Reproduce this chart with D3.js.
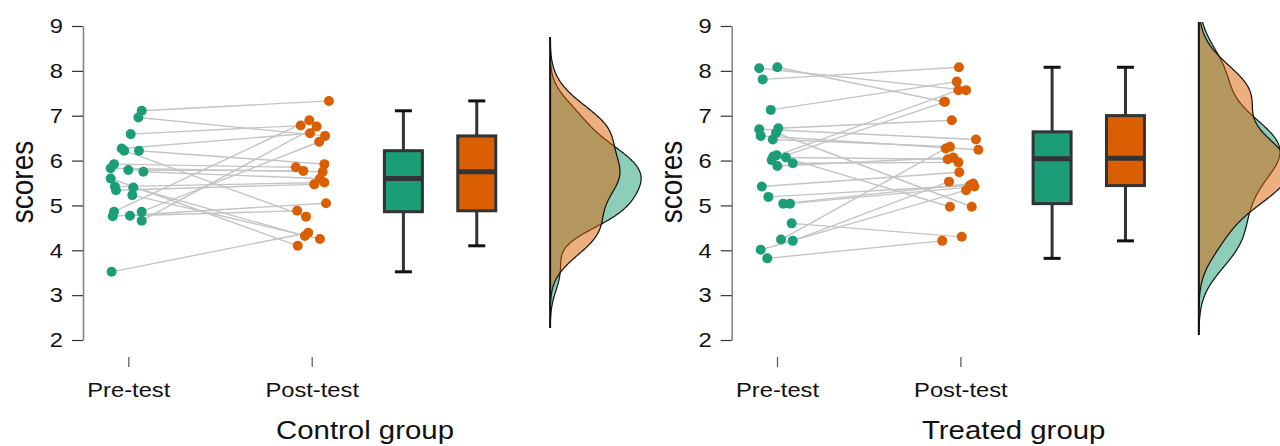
<!DOCTYPE html>
<html>
<head>
<meta charset="utf-8">
<script src="https://cdn.jsdelivr.net/npm/d3@7"></script>
<style>
  body { margin: 0; background: #fff; }
  svg { display: block; font-family: "Liberation Sans", Arial, sans-serif; }
</style>
</head>
<body>
<div id="wrapper"></div>
<script>
// tick labels and categories
const yTicks = [2, 3, 4, 5, 6, 7, 8, 9];
const timeLabels = ["Pre-test", "Post-test"];
const groupNames = ["Control group", "Treated group"];

// control group, one entry per subject (pre -> post)
const controlPre  = [7.11, 6.96, 6.59, 6.27, 6.22, 6.22, 5.92, 5.83, 5.79, 5.75, 5.60, 5.42, 5.40, 5.34, 5.23, 4.86, 4.76, 4.77, 4.86, 4.66, 3.52];
const controlPost = [7.33, 6.55, 6.78, 6.61, 4.75, 5.92, 5.85, 5.75, 5.77, 5.60, 4.10, 5.51, 4.32, 5.47, 4.25, 6.90, 5.05, 4.88, 6.42, 6.76, 4.39];
// horizontal jitter, in category units
const controlPreJitter  = [0.073, 0.055, 0.013, -0.036, -0.022, 0.058, -0.078, -0.096, 0, 0.082, -0.096, -0.073, 0.027, -0.067, 0.022, -0.078, -0.085, 0.009, 0.073, 0.073, -0.091];
const controlPostJitter = [0.094, 0.073, -0.060, -0.009, -0.031, 0.069, -0.086, 0.060, -0.046, 0.045, -0.076, 0.069, -0.037, 0.014, 0.045, -0.013, 0.078, -0.079, 0.041, 0.027, -0.019];

// treated group
const treatedPre  = [8.06, 8.08, 7.81, 7.13, 6.70, 6.55, 6.72, 6.62, 6.47, 6.09, 6.12, 6.01, 5.88, 6.07, 5.94, 5.42, 5.19, 5.04, 5.04, 4.60, 4.24, 4.21, 4.01, 3.82];
const treatedPost = [7.57, 7.31, 8.08, 7.76, 6.47, 6.24, 6.90, 4.97, 6.31, 7.57, 4.97, 7.31, 6.07, 6.03, 5.96, 5.74, 5.45, 5.49, 5.42, 4.30, 6.27, 5.53, 5.34, 4.21];
const treatedPreJitter  = [-0.097, 0.002, -0.078, -0.034, -0.097, -0.089, 0.007, -0.005, -0.023, -0.020, -0.002, -0.029, 0.002, 0.049, 0.086, -0.083, -0.047, 0.034, 0.071, 0.080, 0.022, 0.086, -0.089, -0.053];
const treatedPostJitter = [0.031, -0.089, -0.008, -0.020, 0.085, 0.098, -0.047, 0.062, -0.057, -0.011, -0.057, -0.084, -0.039, -0.069, -0.011, -0.006, 0.052, 0.070, 0.076, 0.007, -0.080, -0.062, 0.031, -0.099];

const colors = ["#1b9e77", "#d95f02"];

const width = 1280, height = 446;
const panelOffset = 648.7;
const sx = 1.13; // text in the picture is a bit wide

const svg = d3.select("#wrapper").append("svg")
  .attr("width", width)
  .attr("height", height);

const yScale = d3.scaleLinear().domain([2, 9]).range([340, 26]);
const xScale = d3.scaleLinear().domain([1, 2]).range([128.3, 311.7]);

function kde(values) {
  const sorted = values.slice().sort(d3.ascending);
  const n = values.length;
  const iqr = d3.quantile(sorted, 0.75) - d3.quantile(sorted, 0.25);
  const bw = 0.9 * Math.min(d3.deviation(values), iqr / 1.34) * Math.pow(n, -0.2);
  const lo = sorted[0] - 3 * bw, hi = sorted[n - 1] + 3 * bw;
  return d3.range(512).map(i => {
    const x = lo + (hi - lo) * i / 511;
    const d = d3.mean(values, v => Math.exp(-0.5 * ((x - v) / bw) ** 2)) / (bw * Math.sqrt(2 * Math.PI));
    return [x, d];
  });
}

function boxStats(values) {
  const s = values.slice().sort(d3.ascending);
  const q1 = d3.quantile(s, 0.25), q3 = d3.quantile(s, 0.75);
  const iqr = q3 - q1;
  return {
    q1, q3,
    med: d3.quantile(s, 0.5),
    lo: d3.min(s.filter(v => v >= q1 - 1.5 * iqr)),
    hi: d3.max(s.filter(v => v <= q3 + 1.5 * iqr))
  };
}

function drawPanel(idx, pre, post, preJ, postJ) {
  const g = svg.append("g").attr("transform", `translate(${idx * panelOffset},0)`);

  // y axis
  const yAxis = g.append("g")
    .attr("transform", "translate(83,0)")
    .call(d3.axisLeft(yScale).tickValues(yTicks).tickFormat(d3.format("d"))
      .tickSize(11).tickSizeOuter(0).tickPadding(9));
  yAxis.select(".domain").attr("stroke", "#7f7f7f").attr("stroke-width", 1.5);
  yAxis.selectAll(".tick line").attr("stroke", "#333").attr("stroke-width", 1.2);
  yAxis.selectAll(".tick text")
    .attr("font-size", 21)
    .attr("fill", "#111")
    .attr("x", -20 / sx)
    .attr("transform", `scale(${sx},1)`);

  g.append("text")
    .attr("transform", `translate(33,182) scale(1.15,1) rotate(-90)`)
    .attr("text-anchor", "middle")
    .attr("font-size", 28)
    .attr("fill", "#111")
    .text("scores");

  // x axis (ticks only)
  const xAxis = g.append("g")
    .attr("transform", "translate(0,357)")
    .call(d3.axisBottom(xScale).tickValues([1, 2]).tickFormat((d, i) => timeLabels[i]).tickSize(10).tickPadding(15));
  xAxis.select(".domain").remove();
  xAxis.selectAll(".tick line").attr("stroke", "#555").attr("stroke-width", 1.2);
  xAxis.selectAll(".tick text")
    .attr("font-size", 21)
    .attr("fill", "#111")
    .attr("transform", `scale(${sx},1)`);

  g.append("text")
    .attr("transform", `translate(365,439) scale(${sx},1)`)
    .attr("text-anchor", "middle")
    .attr("font-size", 26)
    .attr("fill", "#111")
    .text(groupNames[idx]);

  // paired lines
  g.append("g").selectAll("line")
    .data(pre)
    .join("line")
    .attr("x1", (d, i) => xScale(1 + preJ[i]))
    .attr("y1", d => yScale(d))
    .attr("x2", (d, i) => xScale(2 + postJ[i]))
    .attr("y2", (d, i) => yScale(post[i]))
    .attr("stroke", "#c4c4c4")
    .attr("stroke-width", 1.4);

  // points
  [[pre, preJ, 1], [post, postJ, 2]].forEach(([vals, jit, pos], k) => {
    g.append("g").selectAll("circle")
      .data(vals)
      .join("circle")
      .attr("cx", (d, i) => xScale(pos + jit[i]))
      .attr("cy", d => yScale(d))
      .attr("r", 5)
      .attr("fill", colors[k]);
  });

  // box plots
  [pre, post].forEach((vals, k) => {
    const s = boxStats(vals);
    const cx = xScale(2.5 + 0.4 * k);
    const hw = 19;
    const bg = g.append("g");
    bg.append("line")
      .attr("x1", cx).attr("x2", cx)
      .attr("y1", yScale(s.hi)).attr("y2", yScale(s.lo))
      .attr("stroke", "#333").attr("stroke-width", 3);
    [s.hi, s.lo].forEach(v => {
      bg.append("line")
        .attr("x1", cx - 8.5).attr("x2", cx + 8.5)
        .attr("y1", yScale(v)).attr("y2", yScale(v))
        .attr("stroke", "#111").attr("stroke-width", 3);
    });
    bg.append("rect")
      .attr("x", cx - hw).attr("width", hw * 2)
      .attr("y", yScale(s.q3)).attr("height", yScale(s.q1) - yScale(s.q3))
      .attr("fill", colors[k])
      .attr("stroke", "#333").attr("stroke-width", 3);
    bg.append("line")
      .attr("x1", cx - hw).attr("x2", cx + hw)
      .attr("y1", yScale(s.med)).attr("y2", yScale(s.med))
      .attr("stroke", "#333").attr("stroke-width", 5);
  });

  // half densities
  const dens = [kde(pre), kde(post)];
  const baseX = xScale(3.3);
  const dMax = d3.max(dens, d => d3.max(d, p => p[1]));
  const wScale = d3.scaleLinear().domain([0, dMax]).range([0, 91]);

  const clipId = "clip" + idx;
  g.append("clipPath").attr("id", clipId)
    .append("rect")
    .attr("x", baseX - 5).attr("width", 200)
    .attr("y", 22).attr("height", 314);

  const dg = g.append("g").attr("clip-path", `url(#${clipId})`);
  const area = d3.area().y(p => yScale(p[0])).x0(baseX).x1(p => baseX + wScale(p[1]));
  const line = d3.line().y(p => yScale(p[0])).x(p => baseX + wScale(p[1]));
  dens.forEach((d, k) => {
    dg.append("path").attr("d", area(d)).attr("fill", colors[k]).attr("fill-opacity", 0.5);
    dg.append("path").attr("d", line(d)).attr("fill", "none").attr("stroke", "#111").attr("stroke-width", 1.2);
  });
  const lo = d3.min(dens, d => d[0][0]);
  const hi = d3.max(dens, d => d[d.length - 1][0]);
  dg.append("line")
    .attr("x1", baseX).attr("x2", baseX)
    .attr("y1", yScale(hi)).attr("y2", yScale(lo))
    .attr("stroke", "#111").attr("stroke-width", 2);
}

drawPanel(0, controlPre, controlPost, controlPreJitter, controlPostJitter);
drawPanel(1, treatedPre, treatedPost, treatedPreJitter, treatedPostJitter);
</script>
</body>
</html>
